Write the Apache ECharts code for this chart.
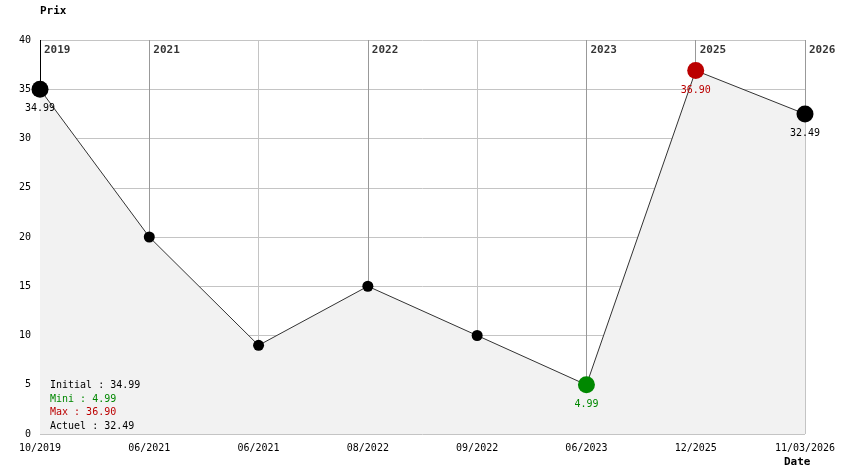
<!DOCTYPE html>
<html>
<head>
<meta charset="utf-8">
<script src="https://cdn.jsdelivr.net/npm/echarts@6/dist/echarts.min.js"></script>
<style>html,body{margin:0;padding:0;background:#fff}#c{width:844px;height:474px}</style>
</head>
<body>
<div id="c"></div>
<script>
var dates = ['10/2019','06/2021','06/2021','08/2022','09/2022','06/2023','12/2025','11/03/2026'];
var prices = [34.99, 20, 9, 15, 10, 4.99, 36.90, 32.49];
var yearLabels = ['2019','2021','','2022','','2023','2025','2026'];
var yTicks = [0, 5, 10, 15, 20, 25, 30, 35, 40];

var FONT = '"DejaVu Sans Mono", "Liberation Mono", monospace';
var yMax = yTicks[yTicks.length - 1];
var n = prices.length;
var minIdx = 0, maxIdx = 0;
prices.forEach(function (v, i) {
  if (v < prices[minIdx]) minIdx = i;
  if (v > prices[maxIdx]) maxIdx = i;
});
function colorOf(i) {
  if (i === minIdx) return '#008800';
  if (i === maxIdx) return '#bb0000';
  return '#000000';
}
function isBig(i) { return i === 0 || i === n - 1 || i === minIdx || i === maxIdx; }

var lineData = prices.map(function (v, i) {
  return {
    value: v,
    symbolSize: isBig(i) ? 17 : 11,
    itemStyle: { color: colorOf(i) },
    label: {
      show: isBig(i),
      position: 'bottom',
      distance: 6,
      color: colorOf(i),
      fontFamily: FONT,
      fontSize: 10,
      formatter: v.toFixed(2)
    }
  };
});

var markLines = [];
var yearPts = [];
yearLabels.forEach(function (y, i) {
  if (!y) return;
  markLines.push([
    { coord: [i, yMax], lineStyle: { color: i === 0 ? '#000' : '#999', width: 1, type: 'solid' } },
    { coord: [i, prices[i]] }
  ]);
  yearPts.push({ value: [i, yMax], name: y });
});

var chart = echarts.init(document.getElementById('c'), null, { renderer: 'canvas' });
chart.setOption({
  animation: false,
  backgroundColor: '#fff',
  grid: { left: 40, right: 39, top: 40, bottom: 40 },
  xAxis: {
    type: 'category',
    data: dates,
    boundaryGap: false,
    axisLine: { show: false },
    axisTick: { show: false },
    axisLabel: { color: '#000', fontFamily: FONT, fontSize: 10, margin: 9, interval: 0, showMaxLabel: true },
    splitLine: { show: true, lineStyle: { color: '#c4c4c4', width: 1 } }
  },
  yAxis: {
    type: 'value',
    min: yTicks[0],
    max: yMax,
    interval: yTicks[1] - yTicks[0],
    axisLine: { show: false },
    axisTick: { show: false },
    axisLabel: { color: '#000', fontFamily: FONT, fontSize: 10, margin: 9 },
    splitLine: { show: true, lineStyle: { color: '#c4c4c4', width: 1 } }
  },
  series: [
    {
      type: 'line',
      data: lineData,
      symbol: 'circle',
      lineStyle: { color: '#333', width: 1 },
      areaStyle: { color: '#f2f2f2', opacity: 1 },
      z: 3,
      markLine: {
        silent: true,
        symbol: 'none',
        label: { show: false },
        data: markLines,
        z: 3
      }
    },
    {
      type: 'scatter',
      data: yearPts,
      symbolSize: 0,
      z: 4,
      label: {
        show: true,
        position: [4, 5],
        color: '#000',
        fontFamily: FONT,
        fontWeight: 'bold',
        fontSize: 11,
        formatter: function (p) { return p.name; }
      }
    }
  ],
  graphic: [
    { type: 'text', left: 40, top: 6, style: { text: 'Prix', font: 'bold 11px ' + FONT, fill: '#000' } },
    { type: 'text', left: 784, top: 457, style: { text: 'Date', font: 'bold 11px ' + FONT, fill: '#000' } },
    { type: 'text', left: 50, top: 380, z: 10, style: { text: 'Initial : ' + prices[0].toFixed(2), font: '10px ' + FONT, fill: '#000' } },
    { type: 'text', left: 50, top: 394, z: 10, style: { text: 'Mini : ' + prices[minIdx].toFixed(2), font: '10px ' + FONT, fill: '#008800' } },
    { type: 'text', left: 50, top: 407, z: 10, style: { text: 'Max : ' + prices[maxIdx].toFixed(2), font: '10px ' + FONT, fill: '#bb0000' } },
    { type: 'text', left: 50, top: 421, z: 10, style: { text: 'Actuel : ' + prices[n - 1].toFixed(2), font: '10px ' + FONT, fill: '#000' } }
  ]
});
</script>
</body>
</html>
